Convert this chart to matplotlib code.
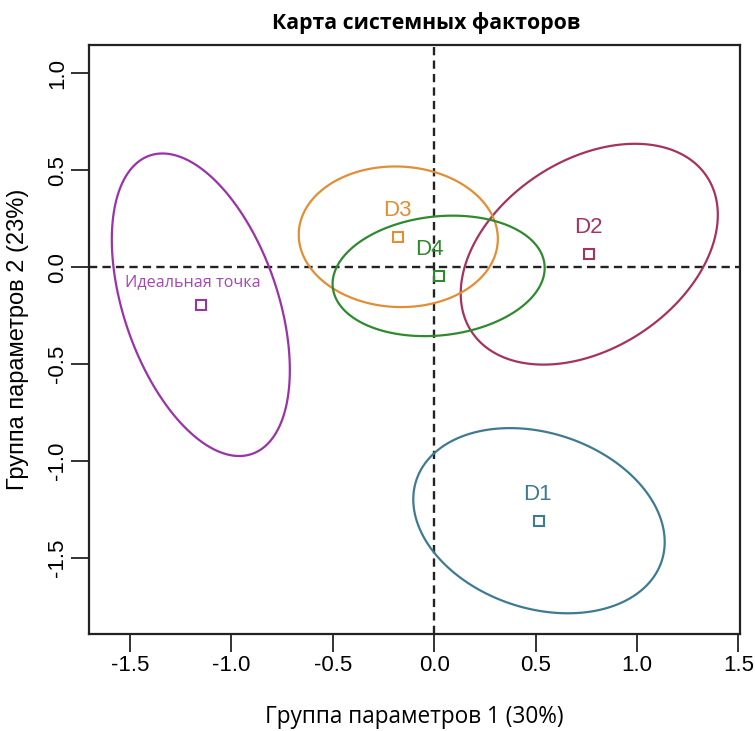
import numpy as np
import matplotlib
matplotlib.use("Agg")
import matplotlib.pyplot as plt

# Group centroids on the two factor axes
names = ["Идеальная точка", "D1", "D2", "D3", "D4"]
dim1 = [-1.151, 0.517, 0.765, -0.177, 0.022]
dim2 = [-0.194, -1.309, 0.067, 0.157, -0.045]

# Confidence ellipses: half-extent along each axis and correlation
ell_sx = [0.439, 0.620, 0.634, 0.491, 0.523]
ell_sy = [0.781, 0.478, 0.570, 0.363, 0.311]
ell_rho = [-0.431, -0.23, 0.356, -0.03, 0.132]

colors = ["#9a32a8", "#3e7b93", "#a5325f", "#e38d34", "#2f8a2f"]
label_colors = ["#a545b3", "#3e7b93", "#a5325f", "#e38d34", "#2f8a2f"]

xticks = [-1.5, -1.0, -0.5, 0.0, 0.5, 1.0, 1.5]
yticks = [-1.5, -1.0, -0.5, 0.0, 0.5, 1.0]

fig = plt.figure(figsize=(7.55, 7.31), dpi=100)
ax = fig.add_axes([0.1175, 0.1327, 0.8625, 0.8057])

t = np.linspace(0, 2 * np.pi, 721)
for cx, cy, sx, sy, r, c in zip(dim1, dim2, ell_sx, ell_sy, ell_rho, colors):
    phi = np.arccos(r)
    ax.fill(cx + sx * np.cos(t), cy + sy * np.cos(t - phi), facecolor="none",
            edgecolor=c, lw=1.6, joinstyle="round", zorder=2)

ax.axhline(0, color="#222222", lw=1.7, ls=(0, (3.5, 2.2)), zorder=1)
ax.axvline(0, color="#222222", lw=1.7, ls=(0, (3.5, 2.2)), zorder=1)

for i, (x, y, n) in enumerate(zip(dim1, dim2, names)):
    ax.plot(x, y, marker="s", ms=6.5, mfc="none", mec=colors[i], mew=1.5, zorder=3)
    if i == 0:
        ax.annotate(n, (x, y), xytext=(-6, 16), textcoords="offset points",
                    ha="center", va="center", color=label_colors[i],
                    fontsize=11.6, family="Open Sans")
    else:
        dx = -7 if n == "D4" else -1
        ax.annotate(n, (x, y), xytext=(dx, 19), textcoords="offset points",
                    ha="center", va="center", color=label_colors[i],
                    fontsize=16, family="Liberation Sans")

ax.set_xlim(-1.704, 1.508)
ax.set_ylim(-1.894, 1.147)
ax.set_xticks(xticks)
ax.set_yticks(yticks)
ax.set_xticklabels([f"{v:.1f}" for v in xticks], family="Liberation Sans", fontsize=16)
ax.set_yticklabels([f"{v:.1f}" for v in yticks], family="Liberation Sans", fontsize=16,
                   rotation=90, va="center")
ax.tick_params(direction="out", length=13, width=1.3, color="#222222", pad=2)
for s in ax.spines.values():
    s.set_linewidth(1.6)
    s.set_color("#222222")

ax.set_xlabel("Группа параметров 1 (30%)", family="Open Sans", fontsize=16.3, labelpad=21)
ax.set_ylabel("Группа параметров 2 (23%)", family="Liberation Sans", fontsize=17, labelpad=13)
fig.text(0.565, 0.968, "Карта системных факторов", ha="center", va="center",
         family="Open Sans", fontweight="bold", fontsize=15.3)

fig.savefig("out.png", dpi=100)
